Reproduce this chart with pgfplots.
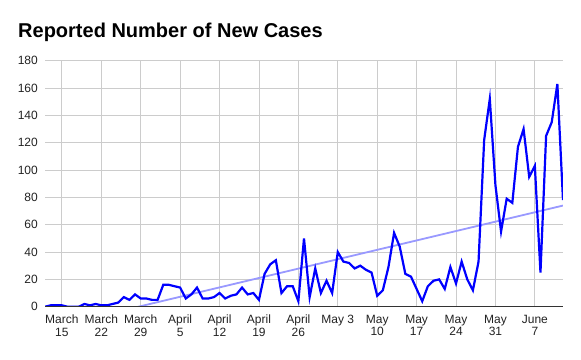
\documentclass[border=0pt]{standalone}
\usepackage{fontspec}
\setmainfont{Liberation Sans}
\usepackage{pgfplots}
\pgfplotsset{compat=1.18}
\definecolor{gridc}{HTML}{CCCCCC}
\definecolor{trendc}{HTML}{9999FF}
\definecolor{axisc}{HTML}{333333}
\definecolor{tickc}{HTML}{222222}
\begin{document}
\begin{tikzpicture}
\begin{axis}[
  scale only axis,
  width=518pt, height=246pt,
  xmin=-3, xmax=89, ymin=0, ymax=180,
  axis line style={draw=none},
  xtick={0,7,14,21,28,35,42,49,56,63,70,77,84},
  xticklabels={March\\15,March\\22,March\\29,April\\5,April\\12,April\\19,April\\26,May 3,May\\10,May\\17,May\\24,May\\31,June\\7},
  ytick={0,20,...,180},
  major tick length=0pt,
  grid=major,
  major grid style={draw=gridc, line width=0.9pt},
  xticklabel style={font=\fontsize{12}{12.5}\selectfont, align=center, anchor=north, inner sep=0pt, yshift=-8.3pt, text=tickc},
  yticklabel style={font=\fontsize{12}{12.5}\selectfont, anchor=east, inner sep=0pt, xshift=-7pt, text=tickc},
  /pgf/number format/assume math mode=true,
  clip=true,
]
\addplot[trendc, line width=1.8pt] coordinates {(-3,-16.3) (89,74)};
\addplot[blue, line width=2.2pt, line join=miter] coordinates {
(-3,0) (-2,1) (-1,1) (0,1) (1,0) (2,0) (3,0) (4,2) (5,1) (6,2)
(7,1) (8,1) (9,2) (10,3) (11,7) (12,5) (13,9) (14,6) (15,6) (16,5)
(17,5) (18,16) (19,16) (20,15) (21,14) (22,6) (23,9) (24,14) (25,6) (26,6)
(27,7) (28,10) (29,6) (30,8) (31,9) (32,14) (33,9) (34,10) (35,5) (36,24)
(37,31) (38,34) (39,10) (40,15) (41,15) (42,4) (43,50) (44,7) (45,28) (46,10)
(47,19) (48,10) (49,40) (50,33) (51,32) (52,28) (53,30) (54,27) (55,25) (56,8)
(57,12) (58,29) (59,54) (60,44) (61,24) (62,22) (63,13) (64,4) (65,15) (66,19)
(67,20) (68,13) (69,29) (70,17) (71,33) (72,20) (73,12) (74,33) (75,122) (76,152)
(77,89) (78,55) (79,79) (80,76) (81,117) (82,130) (83,95) (84,103) (85,25) (86,125)
(87,135) (88,163) (89,78)
};
\draw[axisc, line width=1.2pt] (rel axis cs:0,0) -- (rel axis cs:1,0);
\end{axis}
\node[anchor=base west, inner sep=0pt, font=\fontsize{20}{24}\selectfont\bfseries] at (-27pt,268.7pt) {Reported Number of New Cases};
\pgfresetboundingbox
\path[use as bounding box] (-45pt,-52.3pt) rectangle (536pt,306.7pt);
\end{tikzpicture}
\end{document}
